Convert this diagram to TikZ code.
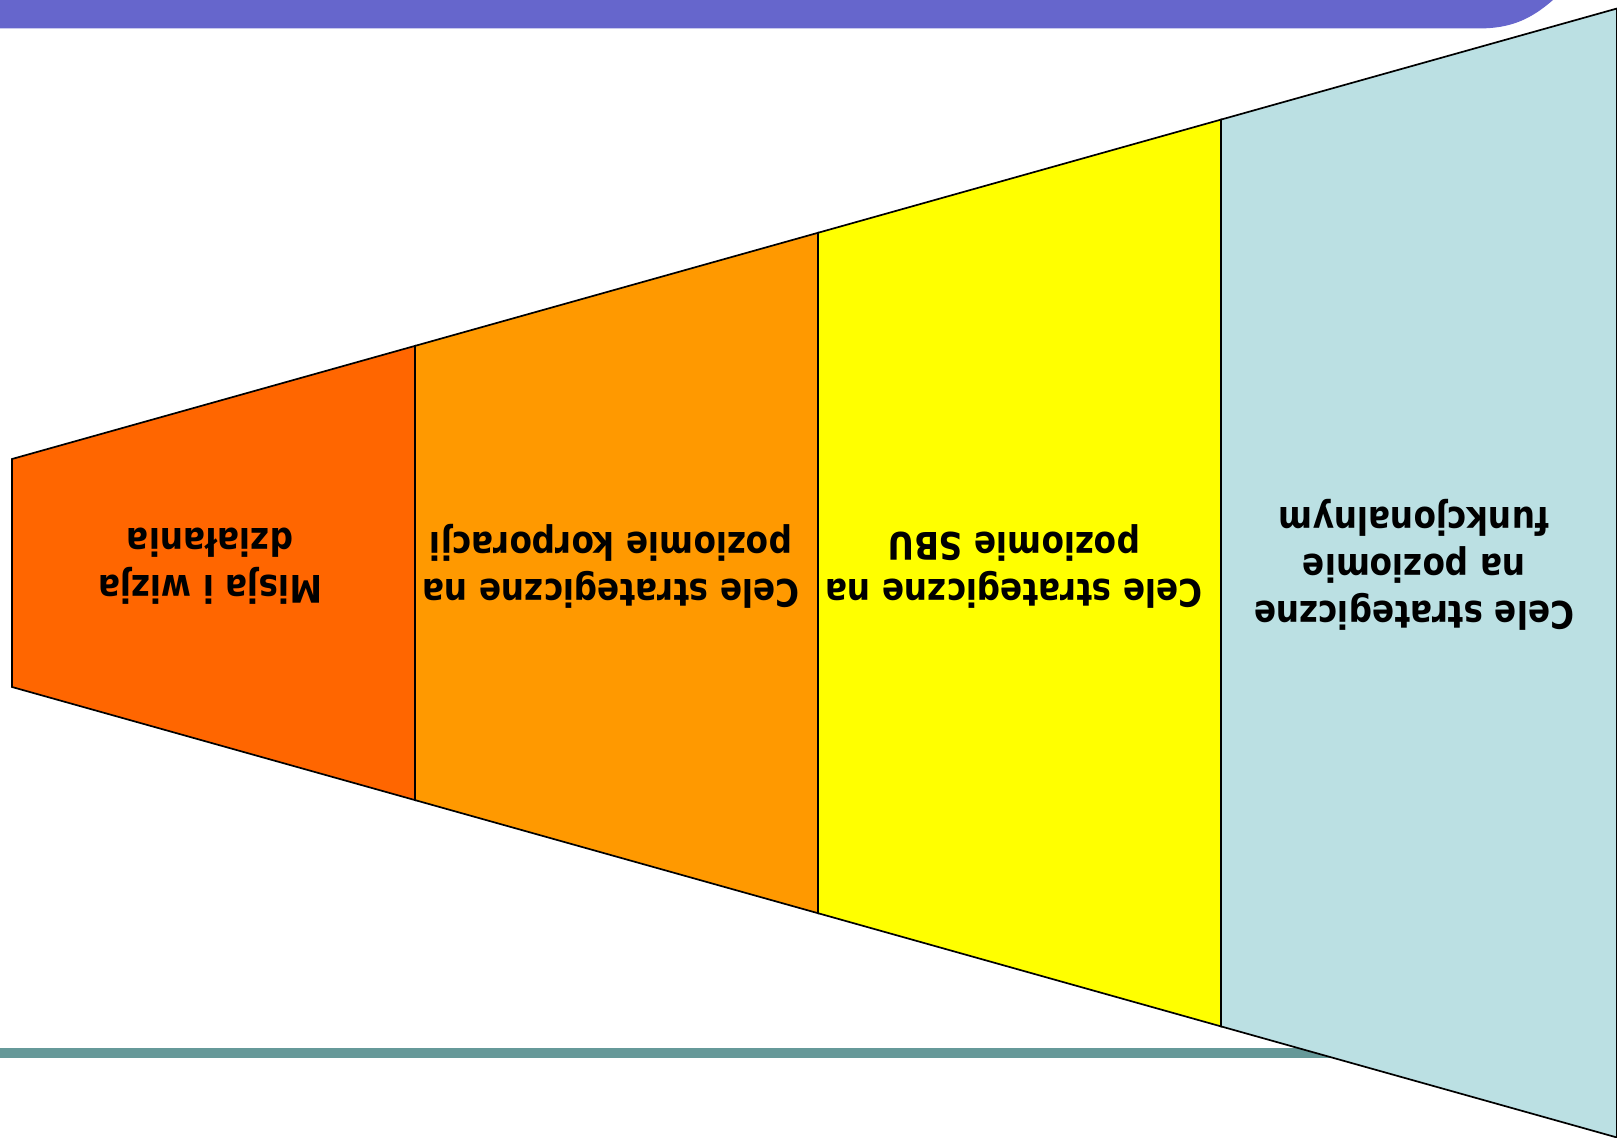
\documentclass[tikz,border=0pt]{standalone}
\usepackage{fontspec}
\newfontfamily\panelfont{DejaVu Sans}[FakeStretch=0.86]
\definecolor{misja}{HTML}{FF6600}
\definecolor{korpo}{HTML}{FF9900}
\definecolor{sbu}{HTML}{FFFF00}
\definecolor{funk}{HTML}{BBE0E3}
\definecolor{topbar}{HTML}{6666CC}
\definecolor{footbar}{HTML}{669999}

\begin{document}
\begin{tikzpicture}[x=0.5pt,y=-0.5pt,
    panel/.style={draw=black, line width=0.85pt, line join=miter},
    label/.style={rotate=180, align=center, text=black,
      font=\panelfont\bfseries\fontsize{19}{23.5}\selectfont}]
    \useasboundingbox (0,0) rectangle (1617,1138);

    % bars of the slide
    \fill[topbar] (0,0)--(1553,0) .. controls (1530,20) and (1510,28.5) .. (1478,28.5)--(0,28.5)--cycle;
    \fill[footbar] (0,1048) rectangle (1400,1058);

    % the four panels of the funnel
    \filldraw[panel, fill=misja] (12,459)--(415,345.9)--(415,800.1)--(12,687)--cycle;
    \filldraw[panel, fill=korpo] (415,345.9)--(818,232.8)--(818,913.2)--(415,800.1)--cycle;
    \filldraw[panel, fill=sbu] (818,232.8)--(1221,119.6)--(1221,1026.4)--(818,913.2)--cycle;
    \filldraw[panel, fill=funk] (1221,119.6)--(1617,8.5)--(1617,1137.5)--(1221,1026.4)--cycle;

    \node[label] (misjaText) at (210,566) {Misja i wizja\\działania};
    \node[label] (korpoText) at (611,566) {Cele strategiczne na\\poziomie korporacji};
    \node[label] (sbuText) at (1014,566) {Cele strategiczne na\\poziomie SBU};
    \node[label] (funkText) at (1414,565) {Cele strategiczne\\na poziomie\\funkcjonalnym};

\end{tikzpicture}
\end{document}
